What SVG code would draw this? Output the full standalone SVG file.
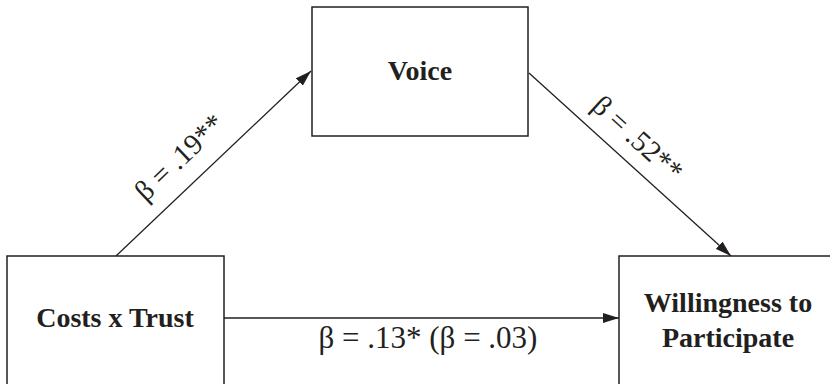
<svg xmlns="http://www.w3.org/2000/svg" width="830" height="384" viewBox="0 0 830 384">
<style>
.box{fill:#fff;stroke:#231f20;stroke-width:1.5}
.edge{stroke:#231f20;stroke-width:1.3;fill:none}
.nl{font-family:"Liberation Serif","Times New Roman",serif;font-weight:bold;font-size:28px;fill:#231f20;text-anchor:middle}
.el{font-family:"Liberation Serif","Times New Roman",serif;font-size:29px;fill:#231f20;text-anchor:middle}
</style>
<defs>
<marker id="ah" viewBox="0 0 16 10" refX="16" refY="5" markerWidth="16" markerHeight="10" markerUnits="userSpaceOnUse" orient="auto">
<path d="M0,0 L16,5 L0,10 z" fill="#231f20"/>
</marker>
</defs>
<g id="connectors">
<line class="edge" x1="116" y1="256" x2="311" y2="71" marker-end="url(#ah)"/>
<line class="edge" x1="529" y1="73" x2="731" y2="256" marker-end="url(#ah)"/>
<line class="edge" x1="224" y1="318" x2="619" y2="318" marker-end="url(#ah)"/>
<text class="el" transform="translate(179,157) rotate(-43.6)" y="10">β = .19**</text>
<text class="el" transform="translate(638,138) rotate(42.3)" y="10">β = .52**</text>
<text class="el" x="428" y="348" style="font-size:31px">β = .13* (β = .03)</text>
</g>
<g id="voice">
<rect class="box" x="312" y="7" width="216" height="129"/>
<text class="nl" x="420" y="80">Voice</text>
</g>
<g id="costs">
<rect class="box" x="7" y="256" width="217" height="140"/>
<text class="nl" x="115" y="327">Costs x Trust</text>
</g>
<g id="willingness">
<rect class="box" x="619" y="256" width="230" height="140"/>
<text class="nl" x="728" y="312">Willingness to</text>
<text class="nl" x="728" y="347">Participate</text>
</g>
</svg>
